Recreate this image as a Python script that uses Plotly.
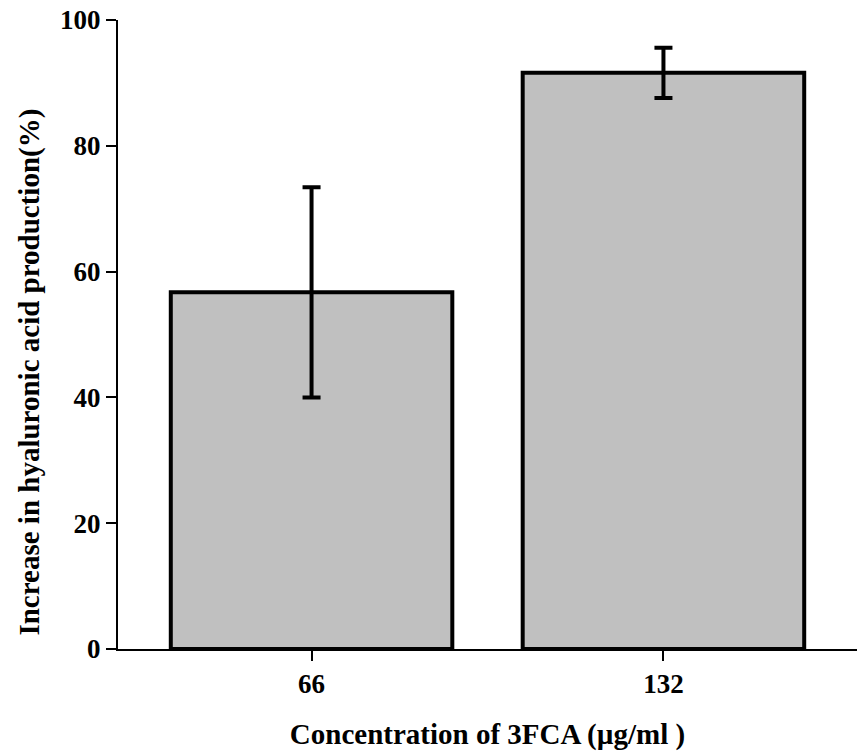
import plotly.graph_objects as go

categories = ["66", "132"]
values = [56.7, 91.6]
errors = [16.7, 4.0]
y_ticks = [0, 20, 40, 60, 80, 100]

FONT = "Liberation Serif"
x_pos = list(range(len(categories)))

fig = go.Figure()
fig.add_trace(go.Bar(
    x=x_pos, y=values, width=0.8,
    marker=dict(color="#c0c0c0", line=dict(color="black", width=4)),
    error_y=dict(type="data", array=errors, visible=True, color="black",
                 thickness=4, width=9),
))

fig.update_layout(
    width=859, height=751,
    margin=dict(l=118, r=2, t=20, b=102),
    paper_bgcolor="white", plot_bgcolor="white",
    showlegend=False,
    font=dict(family=FONT, color="black"),
    xaxis=dict(
        range=[-0.55, 1.55], tickvals=x_pos, ticktext=categories,
        showline=True, linecolor="black", linewidth=2,
        ticks="outside", ticklen=10, tickwidth=2, tickcolor="black",
        tickfont=dict(family=FONT, size=27, weight="bold"),
        showgrid=False, zeroline=False,
        title=dict(text="<b>Concentration of 3FCA (µg/ml )</b>",
                   font=dict(family=FONT, size=29), standoff=27),
    ),
    yaxis=dict(
        range=[0, 100], tickvals=y_ticks,
        showline=True, linecolor="black", linewidth=2,
        ticks="outside", ticklen=10, tickwidth=2, tickcolor="black",
        tickfont=dict(family=FONT, size=27, weight="bold"),
        showgrid=False, zeroline=False,
    ),
    annotations=[dict(
        text="<b>Increase in hyaluronic acid production(%)</b>",
        xref="paper", yref="paper", x=-0.12, y=0.44,
        xanchor="center", yanchor="middle", textangle=-90,
        showarrow=False, font=dict(family=FONT, size=29, color="black"),
    )],
)

fig.write_html("out.html")
